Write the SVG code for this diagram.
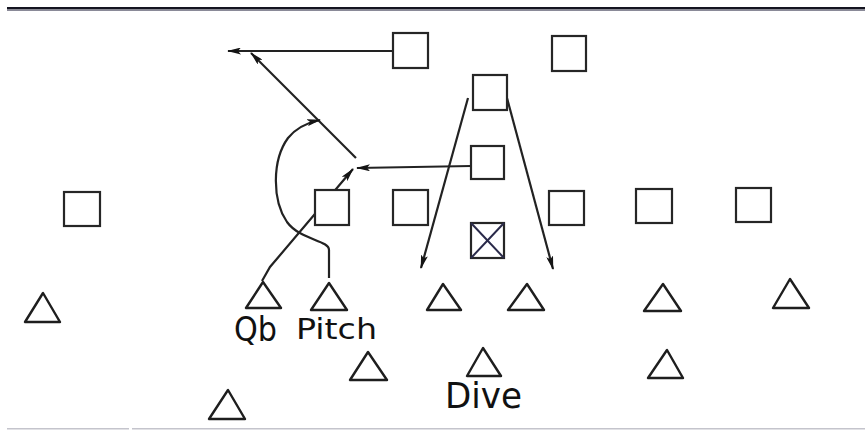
<svg xmlns="http://www.w3.org/2000/svg" width="865" height="431" viewBox="0 0 865 431">
<style>
.sq{fill:#fff;stroke:#262626;stroke-width:2.2}
.tr{fill:#fff;stroke:#1e1e1e;stroke-width:2.4;stroke-linejoin:round}
.ln{fill:none;stroke:#222;stroke-width:2.2}
.lb{font-family:"DejaVu Sans",sans-serif;fill:#111}
</style>
<defs>
<marker id="ah" viewBox="0 0 14 7" refX="13" refY="3.5" markerWidth="14" markerHeight="7" markerUnits="userSpaceOnUse" orient="auto">
<path d="M0,0 L14,3.5 L0,7 L3,3.5 z" fill="#141414"/>
</marker>
</defs>
<rect x="7" y="7" width="858" height="2.5" fill="#141420"/>
<rect x="7" y="9.5" width="858" height="1.5" fill="#8a8a98"/>
<rect x="7" y="428" width="122" height="1.5" fill="#c4c4cc"/>
<rect x="132" y="428" width="733" height="1.5" fill="#c4c4cc"/>
<g id="connectors">
<path class="ln" d="M393,51 L228,51" marker-end="url(#ah)"/>
<path class="ln" d="M356,158 L251,53" marker-end="url(#ah)"/>
<path class="ln" d="M329,278 L329,250 C329,240 300,240 287,222 C272,200 272,160 288,138 C296,128 306,123 320,120" marker-end="url(#ah)"/>
<path class="ln" d="M262,281 L270,267 L353,169" marker-end="url(#ah)"/>
<path class="ln" d="M471,166 L357,168" marker-end="url(#ah)"/>
<path class="ln" d="M468,98 L421,268" marker-end="url(#ah)"/>
<path class="ln" d="M507,98 L553,269" marker-end="url(#ah)"/>
</g>
<g id="d1"><rect class="sq" x="393" y="33" width="35" height="35"/></g>
<g id="d2"><rect class="sq" x="552" y="36" width="34" height="35"/></g>
<g id="d3"><rect class="sq" x="473" y="75" width="34" height="35"/></g>
<g id="d4"><rect class="sq" x="471" y="146" width="33" height="33"/></g>
<g id="d5"><rect class="sq" x="64" y="192" width="36" height="34"/></g>
<g id="d6"><rect class="sq" x="315" y="190" width="34" height="35"/></g>
<g id="d7"><rect class="sq" x="393" y="190" width="35" height="35"/></g>
<g id="d8"><rect class="sq" x="549" y="191" width="35" height="34"/></g>
<g id="d9"><rect class="sq" x="636" y="189" width="36" height="34"/></g>
<g id="d10"><rect class="sq" x="736" y="188" width="35" height="34"/></g>
<g id="d11"><rect class="sq" x="471" y="223" width="33" height="35"/><path d="M471,223 L504,258 M504,223 L471,258" stroke="#2a2a4a" stroke-width="2" fill="none"/></g>
<g id="o1"><polygon class="tr" points="25,322 60,322 43,293"/></g>
<g id="o2"><polygon class="tr" points="246,308 281,308 263,282"/></g>
<g id="o3"><polygon class="tr" points="311,310 347,310 329,283"/></g>
<g id="o4"><polygon class="tr" points="427,310 461,310 443,284"/></g>
<g id="o5"><polygon class="tr" points="508,310 544,310 527,284"/></g>
<g id="o6"><polygon class="tr" points="644,311 681,311 663,284"/></g>
<g id="o7"><polygon class="tr" points="773,308 809,308 790,279"/></g>
<g id="o8"><polygon class="tr" points="350,380 387,380 368,352"/></g>
<g id="o9"><polygon class="tr" points="467,376 501,376 483,348"/></g>
<g id="o10"><polygon class="tr" points="648,378 683,378 667,350"/></g>
<g id="o11"><polygon class="tr" points="209,419 245,419 228,390"/></g>
<text class="lb" x="234" y="341" font-size="33" textLength="43" lengthAdjust="spacingAndGlyphs">Qb</text>
<text class="lb" x="296" y="339" font-size="28" textLength="81" lengthAdjust="spacingAndGlyphs">Pitch</text>
<text class="lb" x="445" y="408" font-size="35" textLength="77" lengthAdjust="spacingAndGlyphs">Dive</text>
</svg>
